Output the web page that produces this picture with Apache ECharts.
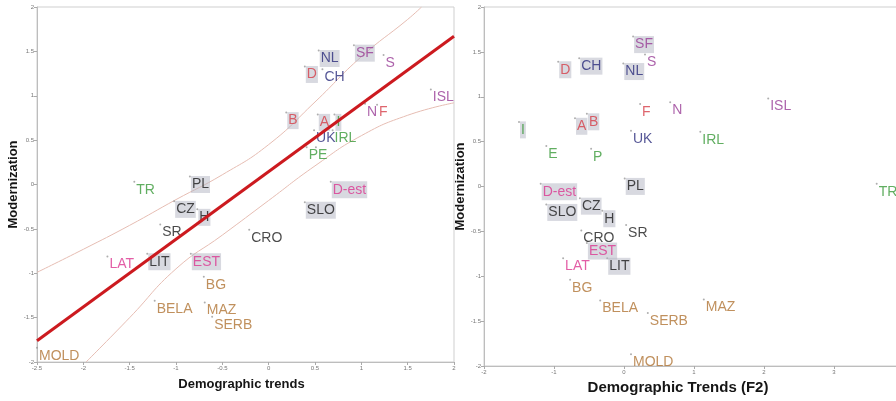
<!DOCTYPE html>
<html><head><meta charset="utf-8">
<script src="https://cdn.jsdelivr.net/npm/echarts@6/dist/echarts.min.js"></script>
<style>html,body{margin:0;padding:0;background:#fff}#c{width:896px;height:401px}</style>
</head><body><div id="c"></div>
<script>
// ---- data ----
const countries = ['NL','SF','S','D','CH','B','A','I','N','F','ISL','UK','IRL','P','E','TR','PL','D-est','CZ','H','SR','CRO','SLO','LAT','LIT','EST','BG','BELA','MAZ','SERB','MOLD'];
const groupOf   = ['navy','purple','purple','red','navy','red','red','green','purple','red','purple','navy','green','green','green','green','black','pink','black','black','black','black','black','pink','black','pink','brown','brown','brown','brown','brown'];

// left panel: Demographic trends vs Modernization
const leftX = [0.54,0.92,1.24,0.39,0.58,0.19,0.53,0.71,1.04,1.17,1.75,0.49,0.69,0.41,0.51,-1.45,-0.85,0.67,-1.02,-0.77,-1.17,-0.21,0.39,-1.74,-1.31,-0.84,-0.70,-1.23,-0.69,-0.61,-2.5];
const leftY = [1.51,1.57,1.46,1.33,1.30,0.81,0.79,0.79,0.91,0.90,1.07,0.61,0.61,0.42,0.42,0.03,0.09,0.03,-0.19,-0.28,-0.45,-0.51,-0.20,-0.81,-0.78,-0.78,-1.04,-1.31,-1.33,-1.49,-1.84];
const boxedLeft = ['NL','SF','D','B','A','I','PL','D-est','CZ','H','SLO','LIT','EST'];

// right panel: Demographic Trends (F2) vs Modernization
const rightX = [-0.01,0.13,0.30,-0.94,-0.64,-0.53,-0.70,-1.50,0.66,0.23,2.06,0.10,1.09,-0.47,-1.11,3.61,0.01,-1.19,-0.63,-0.31,0.03,-0.61,-1.11,-0.87,-0.24,-0.53,-0.77,-0.34,1.14,0.34,0.10];
const rightY = [1.37,1.67,1.47,1.39,1.43,0.81,0.76,0.72,0.94,0.92,0.98,0.62,0.61,0.42,0.45,0.03,0.09,0.03,-0.13,-0.27,-0.43,-0.49,-0.20,-0.80,-0.80,-0.63,-1.04,-1.27,-1.26,-1.41,-1.87];
const boxedRight = ['SF','D','CH','NL','A','B','I','PL','D-est','SLO','CZ','H','EST','LIT'];

// fit line and confidence band (left panel)
const fitX = [-2.5, 2];
const fitY = [-1.76, 1.67];
const upperX = [-2.5,-2,-1.5,-1,-0.5,0,0.5,1,1.5,1.65];
const upperY = [-0.99,-0.73,-0.46,-0.17,0.11,0.45,0.93,1.44,1.86,2.0];
const lowerX = [-1.97,-1.5,-1,-0.5,0,0.5,1,1.5,2];
const lowerY = [-2.0,-1.50,-0.95,-0.57,-0.18,0.21,0.55,0.78,0.92];

// tick labels
const leftXTicks = {min:-2.5, max:2, interval:0.5};
const rightXTicks = {min:-2, max:4, interval:1};
const yTicks = {min:-2, max:2, interval:0.5};

// ---- styles ----
const colors = {red:'#d63f49', navy:'#2a2c7c', purple:'#983c96', green:'#3a9a3a', black:'#1c1c1c', pink:'#dc3690', brown:'#b07435'};
const FONT = '"Liberation Sans", Arial, sans-serif';

function pointsFor(xs, ys, boxed) {
  return countries.map((c, i) => ({
    name: c,
    value: [xs[i], ys[i]],
    label: {
      color: colors[groupOf[i]],
      backgroundColor: boxed.includes(c) ? 'rgba(176,178,192,0.62)' : 'transparent',
      padding: [2, 1, 1, 1]
    }
  }));
}
const pair = (xs, ys) => xs.map((x, i) => [x, ys[i]]);

const axisCommon = {
  axisLine: {show: true, onZero: false, lineStyle: {color: '#bdbdbd', width: 1}},
  axisTick: {show: true, length: 3, lineStyle: {color: '#aaa'}},
  axisLabel: {fontSize: 6, color: '#777', margin: 3, fontFamily: FONT},
  splitLine: {show: false}
};
const nameStyle = (sz) => ({fontSize: sz, fontWeight: 'bold', color: '#151515', fontFamily: FONT});

const scatterCommon = {
  type: 'scatter',
  symbolSize: 2,
  itemStyle: {color: '#9a9a9a'},
  label: {show: true, position: 'right', distance: 0, offset: [0, 8], fontSize: 14, fontFamily: FONT,
          formatter: p => p.name},
  emphasis: {disabled: true},
  z: 3
};

const option = {
  animation: false,
  grid: [
    {left: 37, top: 7, width: 417, height: 355, show: true, borderColor: '#cfcfcf', borderWidth: 1, outerBoundsMode: 'none', containLabel: false},
    {left: 484, top: 7, width: 420, height: 359, show: true, borderColor: '#cfcfcf', borderWidth: 1, outerBoundsMode: 'none', containLabel: false}
  ],
  xAxis: [
    Object.assign({}, axisCommon, {gridIndex: 0, type: 'value', min: leftXTicks.min, max: leftXTicks.max, interval: leftXTicks.interval,
      name: 'Demographic trends', nameLocation: 'middle', nameGap: 16, nameTextStyle: Object.assign(nameStyle(13), {padding: [0, 8, 0, 0]})}),
    Object.assign({}, axisCommon, {gridIndex: 1, type: 'value', min: rightXTicks.min, max: rightXTicks.max, interval: rightXTicks.interval,
      name: 'Demographic Trends (F2)', nameLocation: 'middle', nameGap: 13, nameTextStyle: Object.assign(nameStyle(15), {padding: [0, 32, 0, 0]})})
  ],
  yAxis: [
    Object.assign({}, axisCommon, {gridIndex: 0, type: 'value', min: yTicks.min, max: yTicks.max, interval: yTicks.interval,
      name: 'Modernization', nameLocation: 'middle', nameGap: 17, nameTextStyle: nameStyle(13)}),
    Object.assign({}, axisCommon, {gridIndex: 1, type: 'value', min: yTicks.min, max: yTicks.max, interval: yTicks.interval,
      name: 'Modernization', nameLocation: 'middle', nameGap: 15, nameTextStyle: nameStyle(13)})
  ],
  series: [
    {type: 'line', xAxisIndex: 0, yAxisIndex: 0, data: pair(upperX, upperY), smooth: true, symbol: 'none',
     lineStyle: {color: '#e6bdb3', width: 1}, z: 2, silent: true},
    {type: 'line', xAxisIndex: 0, yAxisIndex: 0, data: pair(lowerX, lowerY), smooth: true, symbol: 'none',
     lineStyle: {color: '#e6bdb3', width: 1}, z: 2, silent: true},
    Object.assign({}, scatterCommon, {xAxisIndex: 0, yAxisIndex: 0, data: pointsFor(leftX, leftY, boxedLeft)}),
    {type: 'line', xAxisIndex: 0, yAxisIndex: 0, data: pair(fitX, fitY), symbol: 'none',
     lineStyle: {color: '#cc1a1f', width: 3}, z: 10, silent: true},
    Object.assign({}, scatterCommon, {xAxisIndex: 1, yAxisIndex: 1, data: pointsFor(rightX, rightY, boxedRight)})
  ]
};
const chart = echarts.init(document.getElementById('c'), null, {renderer: 'canvas'});
chart.setOption(option);
</script>
</body></html>
